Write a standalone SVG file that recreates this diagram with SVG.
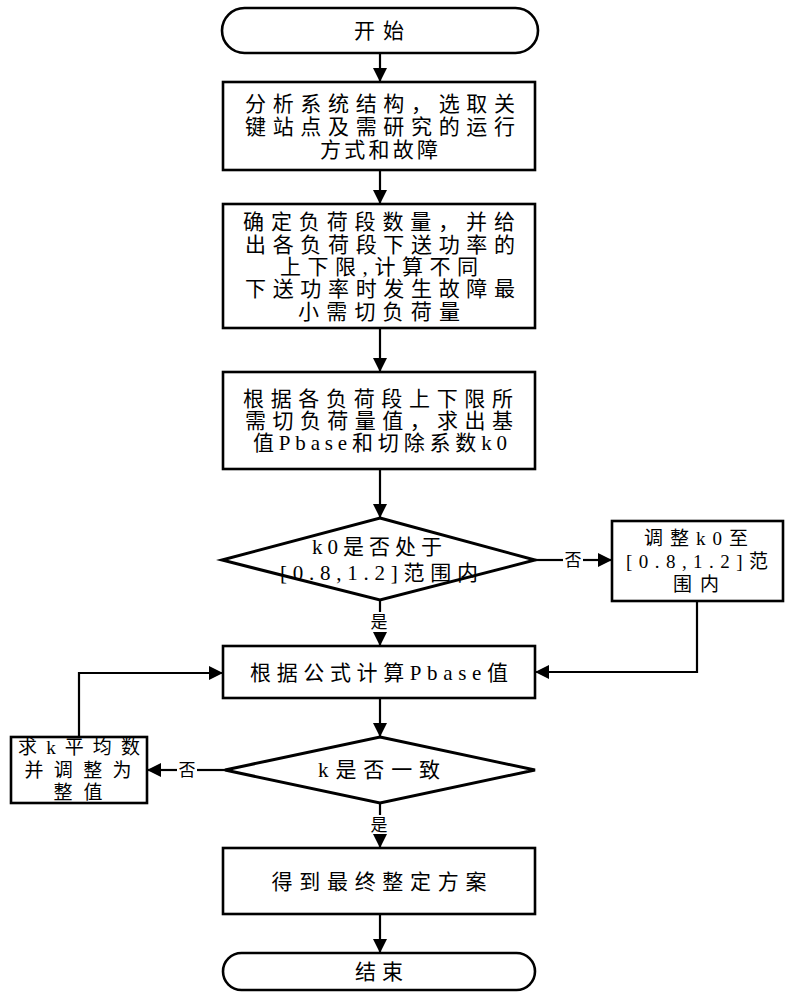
<svg xmlns="http://www.w3.org/2000/svg" width="791" height="1000" viewBox="0 0 791 1000">
<style>
.shape{fill:#fff;stroke:#000;stroke-width:2.6}
.dia{fill:#fff;stroke:#000;stroke-width:3}
.t{font-family:"Liberation Serif","Noto Sans CJK SC",serif;font-size:21px;fill:#000;text-anchor:middle;dominant-baseline:central}
.s{font-size:19px}
.lbl{font-family:"Liberation Serif","Noto Sans CJK SC",serif;font-size:17px;fill:#000;text-anchor:middle;dominant-baseline:central}
.c{fill:none;stroke:#000;stroke-width:2.2}
</style>
<defs>
<marker id="ah" markerUnits="userSpaceOnUse" markerWidth="14" markerHeight="14" viewBox="0 0 14 14" refX="14" refY="7" orient="auto">
<path d="M0,0 L14,7 L0,14 Z" fill="#000"/>
</marker>
</defs>
<rect width="791" height="1000" fill="#fff"/>
<g id="connectors">
<line class="c" x1="380" y1="53" x2="380" y2="82" marker-end="url(#ah)"/>
<line class="c" x1="380" y1="170" x2="380" y2="204" marker-end="url(#ah)"/>
<line class="c" x1="380" y1="328" x2="380" y2="372" marker-end="url(#ah)"/>
<line class="c" x1="380" y1="469" x2="380" y2="518" marker-end="url(#ah)"/>
<line class="c" x1="535" y1="560" x2="563" y2="560"/>
<line class="c" x1="583" y1="560" x2="612" y2="560" marker-end="url(#ah)"/>
<text class="lbl" x="573" y="560">否</text>
<polyline class="c" points="697,601 697,672 535,672" marker-end="url(#ah)"/>
<line class="c" x1="380" y1="600" x2="380" y2="612"/>
<line class="c" x1="380" y1="632" x2="380" y2="646" marker-end="url(#ah)"/>
<text class="lbl" x="379" y="622">是</text>
<line class="c" x1="380" y1="698" x2="380" y2="737" marker-end="url(#ah)"/>
<line class="c" x1="225" y1="770" x2="197" y2="770"/>
<line class="c" x1="177" y1="770" x2="147" y2="770" marker-end="url(#ah)"/>
<text class="lbl" x="187" y="770">否</text>
<polyline class="c" points="79,737 79,673 223,673" marker-end="url(#ah)"/>
<line class="c" x1="380" y1="803" x2="380" y2="815"/>
<line class="c" x1="380" y1="835" x2="380" y2="848" marker-end="url(#ah)"/>
<text class="lbl" x="379" y="825">是</text>
<line class="c" x1="380" y1="914" x2="380" y2="953" marker-end="url(#ah)"/>
</g>
<g id="start">
<rect class="shape" x="222" y="8" width="316" height="45" rx="22.5" ry="22.5"/>
<text class="t" x="379" y="31" textLength="50" lengthAdjust="spacing">开始</text>
</g>
<g id="analyze">
<rect class="shape" x="223" y="82" width="312" height="88"/>
<text class="t" x="380" y="104" textLength="270" lengthAdjust="spacing">分析系统结构，选取关</text>
<text class="t" x="380" y="127" textLength="270" lengthAdjust="spacing">键站点及需研究的运行</text>
<text class="t" x="379" y="150" textLength="118" lengthAdjust="spacing">方式和故障</text>
</g>
<g id="segments">
<rect class="shape" x="223" y="204" width="312" height="124"/>
<text class="t" x="379" y="222" textLength="272" lengthAdjust="spacing">确定负荷段数量，并给</text>
<text class="t" x="380" y="245" textLength="270" lengthAdjust="spacing">出各负荷段下送功率的</text>
<text class="t" x="379" y="267" textLength="198" lengthAdjust="spacing">上下限,计算不同</text>
<text class="t" x="380" y="289" textLength="270" lengthAdjust="spacing">下送功率时发生故障最</text>
<text class="t" x="379" y="312" textLength="162" lengthAdjust="spacing">小需切负荷量</text>
</g>
<g id="base">
<rect class="shape" x="223" y="372" width="312" height="97"/>
<text class="t" x="378" y="399" textLength="270" lengthAdjust="spacing">根据各负荷段上下限所</text>
<text class="t" x="379" y="421" textLength="268" lengthAdjust="spacing">需切负荷量值，求出基</text>
<text class="t" x="380" y="443" textLength="254" lengthAdjust="spacing">值Pbase和切除系数k0</text>
</g>
<g id="check-k0">
<polygon class="dia" points="380,518 535,560 380,600 222,560"/>
<text class="t" x="377" y="547" textLength="130" lengthAdjust="spacing">k0是否处于</text>
<text class="t" x="379" y="573" textLength="198" lengthAdjust="spacing">[0.8,1.2]范围内</text>
</g>
<g id="adjust-k0">
<rect class="shape" x="612" y="521" width="171" height="80"/>
<text class="t s" x="696" y="538" textLength="104" lengthAdjust="spacing">调整k0至</text>
<text class="t s" x="697" y="561" textLength="142" lengthAdjust="spacing">[0.8,1.2]范</text>
<text class="t s" x="696" y="584" textLength="46" lengthAdjust="spacing">围内</text>
</g>
<g id="calc">
<rect class="shape" x="223" y="646" width="312" height="52"/>
<text class="t" x="379" y="673" textLength="258" lengthAdjust="spacing">根据公式计算Pbase值</text>
</g>
<g id="check-k">
<polygon class="dia" points="380,737 535,770 380,803 225,770"/>
<text class="t" x="379" y="770" textLength="122" lengthAdjust="spacing">k是否一致</text>
</g>
<g id="average">
<rect class="shape" x="11" y="737" width="136" height="66"/>
<text class="t s" x="79" y="747" textLength="122" lengthAdjust="spacing">求k平均数</text>
<text class="t s" x="78" y="770" textLength="107" lengthAdjust="spacing">并调整为</text>
<text class="t s" x="78" y="792" textLength="49" lengthAdjust="spacing">整值</text>
</g>
<g id="final">
<rect class="shape" x="223" y="848" width="312" height="66"/>
<text class="t" x="379" y="882" textLength="215" lengthAdjust="spacing">得到最终整定方案</text>
</g>
<g id="end">
<rect class="shape" x="223" y="953" width="312" height="37" rx="18.5" ry="18.5"/>
<text class="t" x="379" y="972" textLength="48" lengthAdjust="spacing">结束</text>
</g>
</svg>
